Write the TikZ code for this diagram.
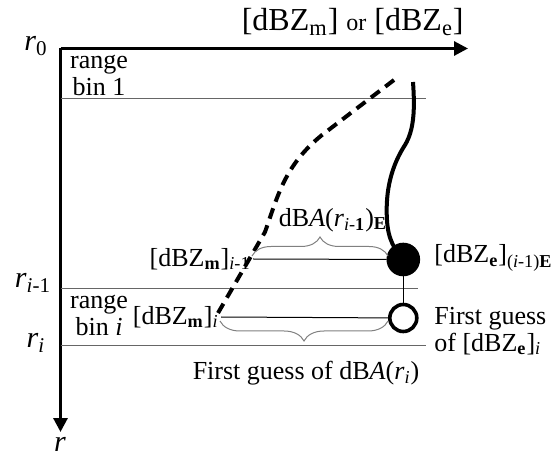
\documentclass[tikz,border=0pt]{standalone}
\usepackage{fontspec}
\setmainfont{Liberation Serif}
\usetikzlibrary{arrows.meta, positioning, decorations.pathreplacing}
\newcommand{\lo}[1]{\textsubscript{#1}}
\begin{document}
\begin{tikzpicture}[x=0.5pt, y=-0.5pt,
  every node/.style={font=\fontsize{13}{13.5}\selectfont, inner sep=1pt},
  rlab/.style={font=\fontsize{15}{16}\selectfont},
  axis/.style={line width=1.5pt, -{Triangle[length=7pt, width=7pt]}},
  binline/.style={line width=0.5pt, gray!80!black},
  tie/.style={line width=0.5pt},
  gap/.style={decorate, decoration={brace, amplitude=#1}, line width=0.5pt, gray},
  meas/.style={line width=2pt, dash pattern=on 5.5pt off 3.5pt},
  est/.style={line width=2pt},
  dot/.style={circle, minimum size=15pt, inner sep=0pt, line width=1.8pt, draw=black}
]
\useasboundingbox (0,0) rectangle (551,459);

\coordinate (o) at (60.5,48.5);
\draw[axis] (o) -- (468,48.5);
\draw[axis] (o) -- (60.5,432);
\node[anchor=east, font=\fontsize{16}{17}\selectfont] (title) at (466,22)
  {[dBZ\lo{m}] {\fontsize{12}{13}\selectfont or} [dBZ\lo{e}]};

\node[rlab] (r0)  at (36,46)  {\textit{r}\lo{0}};
\node[rlab] (rp)  at (33,283) {\textit{r}\lo{\textit{i}-1}};
\node[rlab] (ri)  at (36,343) {\textit{r}\lo{\textit{i}}};
\node[rlab] (r)   at (60,444) {\textit{r}};

\draw[binline] (60.5,98.3) -- (426,98.3);
\draw[binline] (60.5,288.3) -- (418,288.3);
\draw[binline] (60.5,346) -- (426,346);

\node[align=center] (bin1) at (99,75)  {range\\bin 1};
\node[align=center] (bini) at (99,315) {range\\bin \textit{i}};

% measured and estimated profiles
\draw[meas] (394,80) -- (322,135) .. controls (285,165) and (278,195) .. (265,232) -- (218,313);
\draw[est] (413,82) .. controls (415,110) and (414,130) .. (405,145)
  .. controls (392,165) and (385,190) .. (387,220)
  .. controls (388,240) and (395,250) .. (403.3,259.5);

\node[dot, fill=black] (fz) at (403.3,259.5) {};
\node[dot, fill=white, minimum size=13.5pt] (gz) at (403.3,318) {};

\node[anchor=east] (mprev) at (253,259) {[dBZ\lo{\textbf{m}}]\lo{\textit{i}-1}};
\node[anchor=east] (mcur)  at (221,317) {[dBZ\lo{\textbf{m}}]\lo{\textit{i}}};
\node[anchor=west] (eprev) at (432,258) {[dBZ\lo{\textbf{e}}]\lo{(\textit{i}-1)\textbf{E}}};
\node[anchor=west, align=left] (guess) at (432,331) {First guess\\of [dBZ\lo{\textbf{e}}]\lo{\textit{i}}};

\draw[tie] (mprev.east) -- (fz);
\draw[tie] (mcur.east) -- (gz);
\draw[tie] (fz) -- (gz);

\draw[gap=9.5pt] (252,256) -- (388,256);
\node (dba) at (333,220) {dB\textit{A}(\textit{r}\lo{\textit{i}-\textbf{1}})\lo{\textbf{E}}};
\draw[gap=10pt] (388,321) -- (220,321);
\node (dbai) at (306,373) {First guess of dB\textit{A}(\textit{r}\lo{\textit{i}})};
\end{tikzpicture}
\end{document}
